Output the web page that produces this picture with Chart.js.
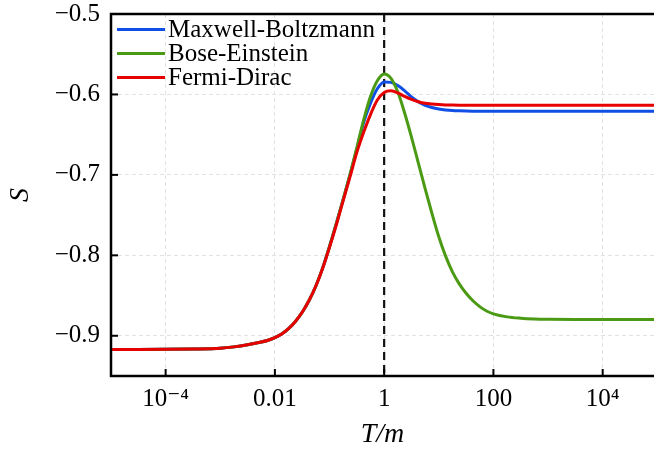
<!DOCTYPE html>
<html>
<head>
<meta charset="utf-8">
<script src="https://cdn.jsdelivr.net/npm/chart.js@4/dist/chart.umd.min.js"></script>
<style>
  body { margin: 0; background: #fff; }
</style>
</head>
<body>
<canvas id="myChart" width="654" height="452"></canvas>
<script>
// Data (x as log10(T/m))
const logT = [-5, -4.5, -4, -3.5, -3, -2.75, -2.5, -2.25, -2.125, -2, -1.875, -1.75, -1.625, -1.5, -1.375, -1.25, -1.125, -1, -0.875, -0.75, -0.625,
    -0.5, -0.375, -0.25, -0.125, 0, 0.125, 0.25, 0.375, 0.5, 0.625, 0.75, 0.875, 1, 1.125, 1.25, 1.375, 1.5, 1.625, 1.75, 1.875, 2, 2.25, 2.5, 2.75, 3, 3.5, 4, 5];

const maxwellBoltzmann = [-0.917, -0.917, -0.9169, -0.9165, -0.9155, -0.9138, -0.9112, -0.9078, -0.9055, -0.9022, -0.8978, -0.8912, -0.8822, -0.8708, -0.8562, -0.8381, -0.8156, -0.7890, -0.7602, -0.7304, -0.7001,
    -0.6680, -0.6350, -0.6110, -0.5930, -0.5845, -0.5850, -0.5890, -0.5955, -0.6030, -0.6090, -0.6135, -0.6162, -0.6180, -0.6192, -0.6200, -0.6204, -0.6207, -0.6209, -0.621, -0.621, -0.621, -0.621, -0.621, -0.621, -0.621, -0.621, -0.621, -0.621];
const boseEinstein = [-0.917, -0.917, -0.9169, -0.9165, -0.9155, -0.9138, -0.9112, -0.9078, -0.9055, -0.9022, -0.8978, -0.8912, -0.8822, -0.8708, -0.8562, -0.8381, -0.8156, -0.7890, -0.7602, -0.7304, -0.6995,
    -0.6660, -0.6315, -0.6025, -0.5830, -0.5746, -0.5800, -0.5970, -0.6230, -0.6530, -0.6850, -0.7170, -0.7480, -0.7770, -0.8010, -0.8205, -0.8355, -0.8472, -0.8565, -0.8637, -0.8692, -0.8727, -0.8765, -0.8782, -0.8791, -0.8795, -0.8798, -0.8798, -0.8798];
const fermiDirac = [-0.917, -0.917, -0.9169, -0.9165, -0.9155, -0.9138, -0.9112, -0.9078, -0.9055, -0.9022, -0.8978, -0.8912, -0.8822, -0.8708, -0.8562, -0.8381, -0.8160, -0.7900, -0.7620, -0.7320, -0.7025,
    -0.6720, -0.6470, -0.6250, -0.6070, -0.5975, -0.5955, -0.5980, -0.6025, -0.6062, -0.6090, -0.6110, -0.6120, -0.6126, -0.6130, -0.6132, -0.6133, -0.6133, -0.6133, -0.6133, -0.6133, -0.6133, -0.6133, -0.6133, -0.6133, -0.6133, -0.6133, -0.6133, -0.6133];

const xTicks = [1e-4, 1e-2, 1, 1e2, 1e4];
const xTickLabels = ['10\u207B\u2074', '0.01', '1', '100', '10\u2074'];
const yTicks = [-0.9, -0.8, -0.7, -0.6, -0.5];
const xRange = [1e-5, 8.7e4];
const markerT = 1;

const serif = '"Liberation Serif", "DejaVu Serif", serif';
const toPoints = ys => logT.map((lx, i) => ({ x: Math.pow(10, lx), y: ys[i] }));

const series = [
    { label: 'Maxwell-Boltzmann', data: maxwellBoltzmann, color: '#0f4fe6', order: 3 },
    { label: 'Bose-Einstein', data: boseEinstein, color: '#4a9a14', order: 2 },
    { label: 'Fermi-Dirac', data: fermiDirac, color: '#e60000', order: 1 }
];

// frame, inward ticks, dashed marker and legend
const decorations = {
    id: 'decorations',
    beforeDatasetsDraw(chart) {
        const { ctx, chartArea: a, scales: { x } } = chart;
        const px = x.getPixelForValue(markerT);
        ctx.save();
        ctx.strokeStyle = '#111';
        ctx.lineWidth = 2.2;
        ctx.setLineDash([8, 5]);
        ctx.beginPath();
        ctx.moveTo(px, a.top);
        ctx.lineTo(px, a.bottom);
        ctx.stroke();
        ctx.restore();
    },
    afterDraw(chart) {
        const { ctx, chartArea: a, scales: { x, y } } = chart;
        ctx.save();
        ctx.strokeStyle = '#000';
        ctx.lineWidth = 2;
        xTicks.forEach(v => {
            const p = x.getPixelForValue(v);
            ctx.beginPath(); ctx.moveTo(p, a.bottom); ctx.lineTo(p, a.bottom - 7); ctx.stroke();
        });
        yTicks.forEach(v => {
            const p = y.getPixelForValue(v);
            ctx.beginPath(); ctx.moveTo(a.left, p); ctx.lineTo(a.left + 7, p); ctx.stroke();
        });
        ctx.lineWidth = 2.5;
        ctx.beginPath();
        ctx.moveTo(chart.width, a.top);
        ctx.lineTo(a.left, a.top);
        ctx.lineTo(a.left, a.bottom);
        ctx.lineTo(chart.width, a.bottom);
        ctx.stroke();

        // legend
        ctx.font = '25px ' + serif;
        ctx.textBaseline = 'middle';
        ctx.fillStyle = '#000';
        series.forEach((s, i) => {
            const ly = a.top + 15.5 + i * 24;
            ctx.strokeStyle = s.color;
            ctx.lineWidth = 3;
            ctx.beginPath(); ctx.moveTo(a.left + 6, ly); ctx.lineTo(a.left + 54, ly); ctx.stroke();
            ctx.fillText(s.label, a.left + 57, ly + 1);
        });
        ctx.restore();
    }
};

const ctx = document.getElementById('myChart').getContext('2d');
const chart = new Chart(ctx, {
    type: 'line',
    data: {
        datasets: series.map(s => ({
            label: s.label,
            data: toPoints(s.data),
            borderColor: s.color,
            borderWidth: 3,
            pointRadius: 0,
            cubicInterpolationMode: 'monotone',
            fill: false,
            order: s.order
        }))
    },
    options: {
        responsive: false,
        animation: false,
        layout: { padding: { top: 14, right: 0, left: 0, bottom: 0 } },
        plugins: { legend: { display: false }, tooltip: { enabled: false } },
        scales: {
            x: {
                type: 'logarithmic',
                min: xRange[0],
                max: xRange[1],
                afterBuildTicks: axis => { axis.ticks = xTicks.map(v => ({ value: v })); },
                afterFit: axis => { axis.height = 76; axis.paddingLeft = 0; axis.paddingRight = 0; },
                grid: { color: '#e2e2e2', lineWidth: 1, drawTicks: false },
                border: { display: false, dash: [4, 3] },
                ticks: {
                    autoSkip: false, maxRotation: 0, padding: 8, color: '#000',
                    font: { family: serif, size: 25 },
                    callback: (v, i) => xTickLabels[i]
                },
                title: {
                    display: true, text: 'T/m', color: '#000',
                    font: { family: serif, size: 28, style: 'italic' },
                    padding: { top: 0, bottom: 1 }
                }
            },
            y: {
                min: -0.95,
                max: -0.5,
                afterBuildTicks: axis => { axis.ticks = yTicks.map(v => ({ value: v })); },
                afterFit: axis => { axis.width = 111; axis.paddingTop = 0; axis.paddingBottom = 0; },
                grid: { color: '#e2e2e2', lineWidth: 1, drawTicks: false },
                border: { display: false, dash: [4, 3] },
                ticks: {
                    padding: 11, color: '#000',
                    font: { family: serif, size: 25 },
                    callback: v => '\u2212' + Math.abs(v).toFixed(1)
                },
                title: {
                    display: true, text: 'S', color: '#000',
                    font: { family: serif, size: 28, style: 'italic' },
                    padding: { top: 4, bottom: 0 }
                }
            }
        }
    },
    plugins: [decorations]
});
</script>
</body>
</html>
